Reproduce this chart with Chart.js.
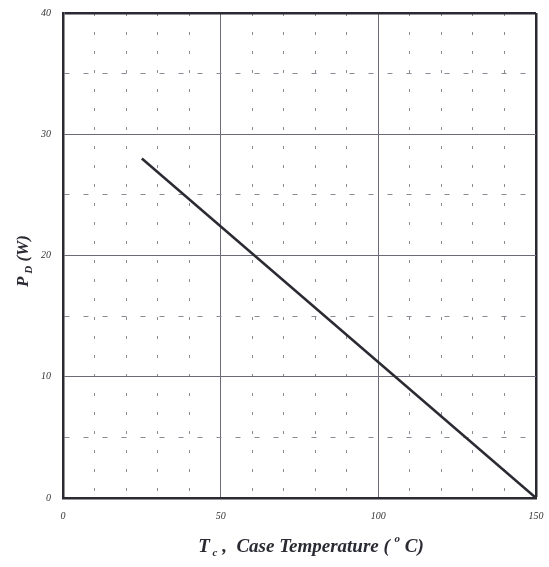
<!DOCTYPE html>
<html>
<head>
<meta charset="utf-8">
<script src="https://cdn.jsdelivr.net/npm/chart.js@4.4.0/dist/chart.umd.min.js"></script>
<style>
  html, body { margin: 0; padding: 0; background: #ffffff; }
  #wrap { width: 549px; height: 567px; }
</style>
</head>
<body>
<div id="wrap"><canvas id="c" width="549" height="567"></canvas></div>
<script>
// Power derating curve: dissipation vs. case temperature
const caseTemp = [25, 150];          // T_c (°C)
const powerDiss = [28, 0];           // P_D (W)
const xLabels = [0, 50, 100, 150];   // labelled temperature ticks
const yLabels = [0, 10, 20, 30, 40]; // labelled power ticks

const points = caseTemp.map((t, i) => ({ x: t, y: powerDiss[i] }));

const ink = '#2a2a33';
const majorGrid = '#6a6a78';
const minorGrid = '#8a8a94';
const tickFont = { family: '"Liberation Serif", "Times New Roman", serif', size: 10, style: 'italic' };

function gridColor(edges, majors) {
  return ctx => {
    const v = ctx.tick ? ctx.tick.value : null;
    if (v === null) return ink;
    if (edges.includes(v)) return ink;
    if (majors.includes(v)) return majorGrid;
    return minorGrid;
  };
}
function gridWidth(edges) {
  return ctx => {
    const v = ctx.tick ? ctx.tick.value : null;
    if (v === null || edges.includes(v)) return 2.5;
    return 1;
  };
}
function gridDash(edges, majors, pattern) {
  return ctx => {
    const v = ctx.tick ? ctx.tick.value : null;
    if (v === null || edges.includes(v) || majors.includes(v)) return [];
    return pattern;
  };
}

// Axis titles with subscripts / superscripts
const titlePlugin = {
  id: 'axisTitles',
  afterDraw(chart) {
    const ctx = chart.ctx;
    const fam = '"Liberation Serif", "Times New Roman", serif';
    function drawRuns(runs, cx, cy) {
      let total = 0;
      runs.forEach(r => { ctx.font = r.font; total += ctx.measureText(r.t).width; });
      let x = cx - total / 2;
      runs.forEach(r => {
        ctx.font = r.font;
        ctx.fillText(r.t, x, cy + (r.dy || 0));
        x += ctx.measureText(r.t).width;
      });
    }
    ctx.save();
    ctx.fillStyle = ink;
    ctx.textBaseline = 'alphabetic';
    ctx.textAlign = 'left';
    const big = 'italic bold 19px ' + fam;
    const small = 'italic bold 11px ' + fam;
    drawRuns([
      { t: 'T', font: big },
      { t: ' c', font: small, dy: 4 },
      { t: ' ,  Case Temperature ( ', font: big },
      { t: 'o', font: small, dy: -10 },
      { t: ' C)', font: big }
    ], 311, 552);

    ctx.translate(28, 261);
    ctx.rotate(-Math.PI / 2);
    drawRuns([
      { t: 'P', font: 'italic bold 17px ' + fam },
      { t: ' D', font: 'italic bold 11px ' + fam, dy: 4 },
      { t: ' (W)', font: 'italic bold 17px ' + fam }
    ], 0, 0);
    ctx.restore();
  }
};

new Chart(document.getElementById('c'), {
  type: 'scatter',
  data: {
    datasets: [{
      data: points,
      showLine: true,
      borderColor: ink,
      borderWidth: 2.5,
      pointRadius: 0,
      fill: false
    }]
  },
  options: {
    responsive: false,
    animation: false,
    events: [],
    layout: { padding: { top: 13, right: 13, left: 0, bottom: 0 } },
    plugins: { legend: { display: false }, tooltip: { enabled: false } },
    scales: {
      x: {
        type: 'linear',
        min: 0, max: 150,
        afterFit: s => { s.height = 69; s.paddingLeft = 0; s.paddingRight = 0; },
        ticks: {
          stepSize: 10,
          autoSkip: false,
          maxRotation: 0,
          padding: 12,
          color: '#333',
          font: tickFont,
          callback: v => xLabels.includes(v) ? String(v) : ''
        },
        grid: {
          drawTicks: false,
          color: gridColor([150], [50, 100]),
          lineWidth: gridWidth([150])
        },
        border: {
          color: ink, width: 2.5,
          dash: gridDash([0, 150], [50, 100], [3, 16])
        }
      },
      y: {
        type: 'linear',
        min: 0, max: 40,
        afterFit: s => { s.width = 63; s.paddingTop = 0; s.paddingBottom = 0; },
        ticks: {
          stepSize: 5,
          autoSkip: false,
          padding: 12,
          color: '#333',
          font: tickFont,
          callback: v => yLabels.includes(v) ? String(v) : ''
        },
        grid: {
          drawTicks: false,
          color: gridColor([40], [10, 20, 30]),
          lineWidth: gridWidth([40])
        },
        border: {
          color: ink, width: 2.5,
          dash: gridDash([0, 40], [10, 20, 30], [5, 14])
        }
      }
    }
  },
  plugins: [titlePlugin]
});
</script>
</body>
</html>
